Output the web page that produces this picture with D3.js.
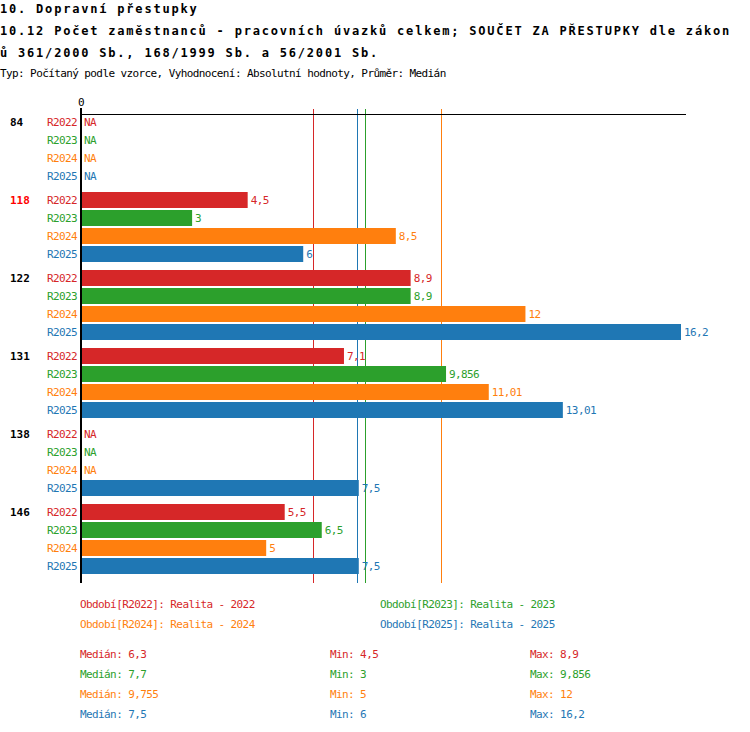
<!DOCTYPE html>
<html>
<head>
<meta charset="utf-8">
<script src="https://cdn.jsdelivr.net/npm/d3@7"></script>
<style>
  body { margin: 0; background: #fff; }
  text { font-family: "DejaVu Sans Mono", monospace; }
  .small { font-size: 11px; letter-spacing: -0.6px; }
  .title { font-size: 12px; font-weight: bold; letter-spacing: 1.8px; }
  .grp { font-size: 11px; font-weight: bold; }
</style>
</head>
<body>
<div id="chart"></div>
<script>
// data
const groups = ["84", "118", "122", "131", "138", "146"];
const series = ["R2022", "R2023", "R2024", "R2025"];
const colors = ["#d62728", "#2ca02c", "#ff7f0e", "#1f77b4"];
const legendNames = ["Realita - 2022", "Realita - 2023", "Realita - 2024", "Realita - 2025"];
const r2022 = [null, 4.5, 8.9, 7.1, null, 5.5];
const r2023 = [null, 3, 8.9, 9.856, null, 6.5];
const r2024 = [null, 8.5, 12, 11.01, null, 5];
const r2025 = [null, 6, 16.2, 13.01, 7.5, 7.5];
const values = [r2022, r2023, r2024, r2025];
const highlighted = "118";

const titleLines = [
    "10. Dopravní přestupky",
    "10.12 Počet zaměstnanců - pracovních úvazků celkem; SOUČET ZA PŘESTUPKY dle zákon",
    "ů 361/2000 Sb., 168/1999 Sb. a 56/2001 Sb."
];
const subtitle = "Typ: Počítaný podle vzorce, Vyhodnocení: Absolutní hodnoty, Průměr: Medián";

const fmt = v => String(+v.toFixed(4)).replace(".", ",");

const svg = d3.select("#chart").append("svg").attr("width", 750).attr("height", 732);

// titles
svg.selectAll(".title").data(titleLines).enter().append("text")
    .attr("class", "title").attr("x", 0).attr("y", (d, i) => 13 + i * 22).text(d => d);
svg.append("text").attr("class", "small").attr("x", 0).attr("y", 77).text(subtitle);

const x = d3.scaleLinear().domain([0, d3.max(values.flat())]).range([81, 681]);
const firstRow = 122, rowStep = 18, groupStep = 78, barH = 16;
const rowY = (g, s) => firstRow + g * groupStep + s * rowStep;

// median lines
const medians = values.map(v => d3.median(v.filter(d => d != null)));
svg.selectAll(".med").data(medians).enter().append("line")
    .attr("x1", d => Math.floor(x(d)) - 0.5).attr("x2", d => Math.floor(x(d)) - 0.5)
    .attr("y1", 109).attr("y2", 583)
    .attr("stroke", (d, i) => colors[i]).attr("stroke-width", 1);

// axis
svg.append("line").attr("x1", 80).attr("x2", 686).attr("y1", 114.5).attr("y2", 114.5)
    .attr("stroke", "#000").attr("stroke-width", 1);
svg.append("line").attr("x1", 81).attr("x2", 81).attr("y1", 108).attr("y2", 583)
    .attr("stroke", "#000").attr("stroke-width", 2);
svg.append("text").attr("class", "small").attr("x", 81).attr("y", 106)
    .attr("text-anchor", "middle").text("0");

// rows
const cells = [];
groups.forEach((g, gi) => series.forEach((s, si) => {
    cells.push({ g: gi, s: si, name: s, v: values[si][gi] });
}));

svg.selectAll(".grp").data(groups).enter().append("text")
    .attr("class", "grp").attr("x", 10).attr("y", (d, i) => rowY(i, 0) + 4)
    .attr("fill", d => d === highlighted ? "#ff0000" : "#000").text(d => d);

svg.selectAll(".lab").data(cells).enter().append("text")
    .attr("class", "small").attr("x", 77).attr("y", d => rowY(d.g, d.s) + 4)
    .attr("text-anchor", "end").attr("fill", d => colors[d.s]).text(d => d.name);

svg.selectAll(".bar").data(cells.filter(d => d.v != null)).enter().append("rect")
    .attr("x", 82).attr("y", d => rowY(d.g, d.s) - barH / 2)
    .attr("width", d => x(d.v) - 82).attr("height", barH)
    .attr("fill", d => colors[d.s]);

svg.selectAll(".val").data(cells).enter().append("text")
    .attr("class", "small")
    .attr("x", d => d.v == null ? 84 : x(d.v) + 3)
    .attr("y", d => rowY(d.g, d.s) + 4)
    .attr("fill", d => colors[d.s])
    .text(d => d.v == null ? "NA" : fmt(d.v));

// legend
svg.selectAll(".leg").data(series).enter().append("text")
    .attr("class", "small")
    .attr("x", (d, i) => i % 2 ? 380 : 80)
    .attr("y", (d, i) => 608 + Math.floor(i / 2) * 20)
    .attr("fill", (d, i) => colors[i])
    .text((d, i) => `Období[${d}]: ${legendNames[i]}`);

// stats
const stats = values.map(v => {
    const f = v.filter(d => d != null);
    return { med: d3.median(f), min: d3.min(f), max: d3.max(f) };
});
[["Medián", "med", 80], ["Min", "min", 330], ["Max", "max", 530]].forEach(([lab, key, xx]) => {
    svg.selectAll(".st-" + key).data(stats).enter().append("text")
        .attr("class", "small").attr("x", xx).attr("y", (d, i) => 658 + i * 20)
        .attr("fill", (d, i) => colors[i])
        .text(d => `${lab}: ${fmt(d[key])}`);
});
</script>
</body>
</html>
